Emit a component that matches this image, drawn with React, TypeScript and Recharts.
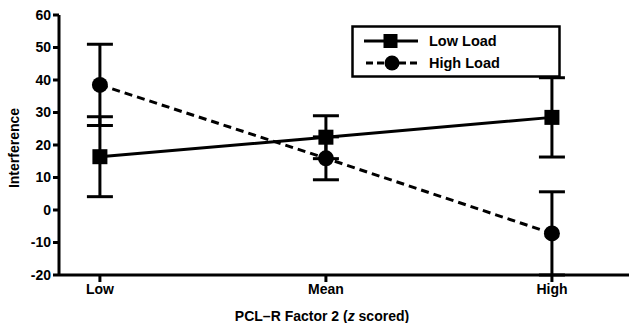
import React from 'react';
import { LineChart, Line, XAxis, YAxis, ErrorBar } from 'recharts';

const categories = ['Low', 'Mean', 'High'];
const lowLoad = [16.4, 22.4, 28.5];
const lowLoadErr = [12.3, 6.6, 12.2];
const highLoad = [38.5, 15.9, -7.2];
const highLoadErr = [12.5, 6.6, 12.8];
const yTicks = [-20, -10, 0, 10, 20, 30, 40, 50, 60];

const data = categories.map((c, i) => ({
  x: i,
  name: c,
  low: lowLoad[i],
  lowErr: lowLoadErr[i],
  high: highLoad[i],
  highErr: highLoadErr[i],
}));

const FONT = '"Liberation Sans", Arial, sans-serif';

const SquareDot = (props: any) => {
  const { cx, cy, index } = props;
  return <rect key={`sq-${index}`} x={cx - 7.5} y={cy - 7.5} width={15} height={15} fill="#000" />;
};
const CircleDot = (props: any) => {
  const { cx, cy, index } = props;
  return <circle key={`ci-${index}`} cx={cx} cy={cy} r={8} fill="#000" />;
};

const LegendBox = () => (
  <svg width={210} height={53} style={{ display: 'block' }}>
    <rect x={1.5} y={1.5} width={207} height={50} fill="#fff" stroke="#000" strokeWidth={2.5} />
    <line x1={13} y1={16} x2={67} y2={16} stroke="#000" strokeWidth={3} />
    <rect x={32.5} y={9} width={14} height={14} fill="#000" />
    <text x={78} y={21} fontFamily={FONT} fontWeight="bold" fontSize={14.5} fill="#000">Low Load</text>
    <line x1={15} y1={38} x2={67} y2={38} stroke="#000" strokeWidth={3} strokeDasharray="7 4" />
    <circle cx={41} cy={38} r={7.5} fill="#000" />
    <text x={78} y={43} fontFamily={FONT} fontWeight="bold" fontSize={14.5} fill="#000">High Load</text>
  </svg>
);

const XLabel = () => (
  <text x={322} y={321} textAnchor="middle" fontFamily={FONT} fontWeight="bold" fontSize={14} fill="#000">
    PCL–R Factor 2 (<tspan fontStyle="italic">z</tspan> scored)
  </text>
);

const YLabel = () => (
  <text x={19} y={148} transform="rotate(-90 19 148)" textAnchor="middle" fontFamily={FONT} fontWeight="bold" fontSize={14} fill="#000">
    Interference
  </text>
);

export default function App() {
  return (
    <div style={{ position: 'absolute', left: 0, top: 0, width: 629, height: 323, background: '#fff' }}>
      <LineChart width={629} height={323} data={data} margin={{ top: 15, right: 0, bottom: 18, left: 0 }}>
        <XAxis
          dataKey="x"
          type="number"
          height={30}
          domain={[-0.181, 2.341]}
          allowDataOverflow
          ticks={[0, 1, 2]}
          tickFormatter={(v: number) => categories[v]}
          axisLine={{ stroke: '#000', strokeWidth: 3 }}
          tickLine={{ stroke: '#000', strokeWidth: 3 }}
          tickSize={7}
          tick={{ fill: '#000', fontFamily: FONT, fontWeight: 'bold', fontSize: 14 }}
          label={<XLabel />}
        />
        <YAxis
          width={59}
          domain={[-20, 60]}
          ticks={yTicks}
          interval={0}
          axisLine={{ stroke: '#000', strokeWidth: 3 }}
          tickLine={{ stroke: '#000', strokeWidth: 3 }}
          tickSize={6}
          tick={{ fill: '#000', fontFamily: FONT, fontWeight: 'bold', fontSize: 14 }}
          label={<YLabel />}
        />
        <Line
          dataKey="low"
          stroke="#000"
          strokeWidth={3}
          dot={<SquareDot />}
          activeDot={false}
          isAnimationActive={false}
        >
          <ErrorBar dataKey="lowErr" direction="y" width={13} stroke="#000" strokeWidth={3} isAnimationActive={false} />
        </Line>
        <Line
          dataKey="high"
          stroke="#000"
          strokeWidth={3}
          strokeDasharray="8 5"
          dot={<CircleDot />}
          activeDot={false}
          isAnimationActive={false}
        >
          <ErrorBar dataKey="highErr" direction="y" width={13} stroke="#000" strokeWidth={3} isAnimationActive={false} />
        </Line>
      </LineChart>
      <div style={{ position: 'absolute', left: 351, top: 25 }}>
        <LegendBox />
      </div>
    </div>
  );
}
